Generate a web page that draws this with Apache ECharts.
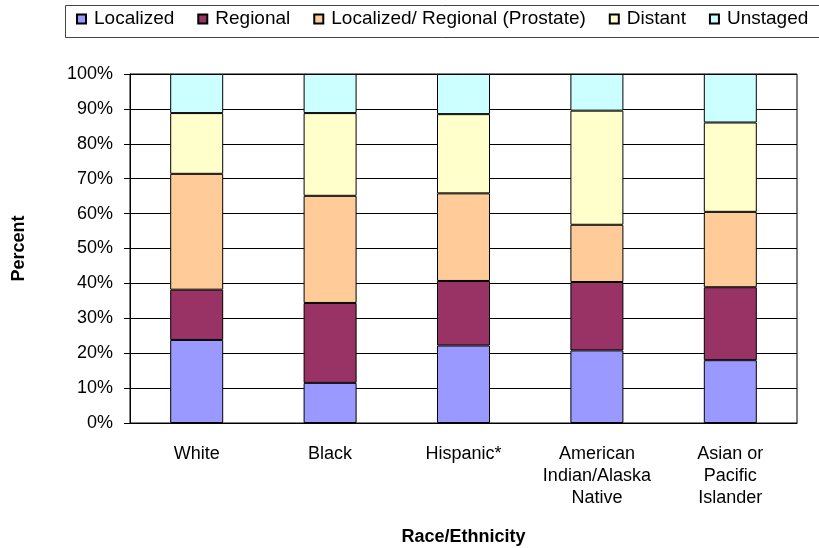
<!DOCTYPE html>
<html>
<head>
<meta charset="utf-8">
<script src="https://cdn.jsdelivr.net/npm/echarts@6/dist/echarts.min.js"></script>
<style>html,body{margin:0;padding:0;background:#fff}#c{width:819px;height:548px}</style>
</head>
<body>
<div id="c"></div>
<script>
const categories = ['White', 'Black', 'Hispanic*', 'American\nIndian/Alaska\nNative', 'Asian or\nPacific\nIslander'];
const seriesNames = ['Localized', 'Regional', 'Localized/ Regional (Prostate)', 'Distant', 'Unstaged'];
const localized = [23.8, 11.5, 22.2, 20.8, 18.0];
const regional = [14.4, 22.9, 18.5, 19.6, 20.9];
const prostate = [33.2, 30.7, 25.1, 16.4, 21.6];
const distant = [17.4, 23.7, 22.7, 32.7, 25.6];
const unstaged = [11.2, 11.2, 11.5, 10.5, 13.9];
const colors = ['#9999FF', '#993366', '#FFCC99', '#FFFFCC', '#CCFFFF'];
const values = [localized, regional, prostate, distant, unstaged];

const font = 'Liberation Sans, Arial, sans-serif';
const chart = echarts.init(document.getElementById('c'));
chart.setOption({
  animation: false,
  backgroundColor: '#fff',
  graphic: [{
    type: 'rect', left: 63, top: 3, silent: true,
    shape: { width: 780, height: 32 },
    style: { fill: 'none', stroke: '#444', lineWidth: 1 }
  }],
  legend: {
    left: 76, top: 9,
    width: 800,
    padding: 0,
    itemGap: 23,
    itemWidth: 9, itemHeight: 9,
    icon: 'rect',
    textStyle: { fontFamily: font, fontSize: 19, color: '#000', lineHeight: 20, padding: [0, 0, 0, 3] },
    data: seriesNames
  },
  grid: { left: 130, right: 22, top: 74, bottom: 125, outerBoundsMode: 'none', containLabel: false, show: true, borderColor: '#000', borderWidth: 1 },
  xAxis: {
    type: 'category',
    data: categories,
    name: 'Race/Ethnicity',
    nameLocation: 'middle',
    nameGap: 105,
    nameTextStyle: { fontFamily: font, fontSize: 18, fontWeight: 'bold', color: '#000' },
    axisLine: { lineStyle: { color: '#000' } },
    axisTick: { length: 5, lineStyle: { color: '#000' } },
    axisLabel: { fontFamily: font, fontSize: 18, color: '#000', lineHeight: 22, margin: 20, interval: 0 }
  },
  yAxis: {
    type: 'value',
    min: 0, max: 100, interval: 10,
    name: 'Percent',
    nameLocation: 'middle',
    nameGap: 102,
    nameRotate: 90,
    nameTextStyle: { fontFamily: font, fontSize: 18, fontWeight: 'bold', color: '#000' },
    axisLine: { show: true, lineStyle: { color: '#000' } },
    axisTick: { show: true, length: 6, lineStyle: { color: '#000' } },
    axisLabel: { formatter: '{value}%', fontFamily: font, fontSize: 18, color: '#000', margin: 17 },
    splitLine: { lineStyle: { color: '#000', width: 1 } }
  },
  series: values.map((v, i) => ({
    name: seriesNames[i],
    type: 'bar',
    stack: 'total',
    barWidth: 53,
    data: v,
    itemStyle: { color: colors[i], borderColor: '#000', borderWidth: 1 }
  }))
});
</script>
</body>
</html>
